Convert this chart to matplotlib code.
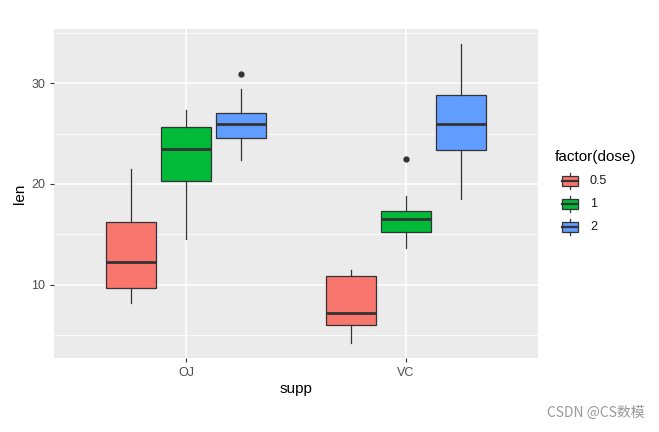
import matplotlib.pyplot as plt
from matplotlib.patches import Rectangle

plt.rcParams['font.family'] = ['Liberation Sans', 'DejaVu Sans']

supp = ['OJ', 'VC']
doses = ['0.5', '1', '2']
colors = ['#F8766D', '#00BA38', '#619CFF']

# five-number summaries (whisker low, q1, median, q3, whisker high)
oj_stats = [(8.2, 9.7, 12.25, 16.175, 21.5),
            (14.5, 20.3, 23.45, 25.65, 27.3),
            (22.4, 24.575, 25.95, 27.075, 29.4)]
vc_stats = [(4.2, 5.95, 7.15, 10.9, 11.5),
            (13.6, 15.275, 16.5, 17.3, 18.8),
            (18.5, 23.375, 25.95, 28.8, 33.9)]
oj_out = [[], [], [30.9]]
vc_out = [[], [22.5], []]

fig = plt.figure(figsize=(6.59, 4.32), dpi=100)
ax = fig.add_axes([54/659, 1-358/432, (538-54)/659, (358-29)/432])
ax.set_facecolor('#EBEBEB')

for v in [5, 15, 25, 35]:
    ax.axhline(v, color='white', lw=0.55, zorder=0)
for v in [10, 20, 30]:
    ax.axhline(v, color='white', lw=1.1, zorder=0)
for v in [1, 2]:
    ax.axvline(v, color='white', lw=1.1, zorder=0)

edge = '#333333'
for i, (st, outs) in enumerate([(oj_stats, oj_out), (vc_stats, vc_out)]):
    for j in range(3):
        lo, q1, med, q3, hi = st[j]
        pos = i + 1 + (j - 1) * 0.25
        d = dict(whislo=lo, q1=q1, med=med, q3=q3, whishi=hi, fliers=outs[j])
        ax.bxp([d], positions=[pos], widths=0.225, patch_artist=True,
               showcaps=False,
               boxprops=dict(facecolor=colors[j], edgecolor=edge, lw=0.9),
               medianprops=dict(color=edge, lw=2.0),
               whiskerprops=dict(color=edge, lw=0.9),
               flierprops=dict(marker='o', markerfacecolor=edge,
                               markeredgecolor=edge, markersize=3.5))

ax.set_xlim(0.4, 2.6)
ax.set_ylim(2.715, 35.385)
ax.set_xticks([1, 2])
ax.set_xticklabels(supp)
ax.set_yticks([10, 20, 30])
for s in ax.spines.values():
    s.set_visible(False)
ax.tick_params(colors='#333333', labelcolor='#4D4D4D', labelsize=9,
               length=3, width=0.8)
ax.set_xlabel('supp', fontsize=11, labelpad=2)
ax.set_ylabel('len', fontsize=11, labelpad=3)

# legend
fig.text(555/659, 1-157/432, 'factor(dose)', fontsize=11, va='center', ha='left')
key_y = [181, 204, 227]
for j in range(3):
    kax = fig.add_axes([560/659, 1-(key_y[j]+10)/432, 20/659, 20/432])
    kax.set_xlim(0, 1)
    kax.set_ylim(0, 1)
    kax.axis('off')
    kax.plot([0.5, 0.5], [0.1, 0.25], color=edge, lw=0.9)
    kax.plot([0.5, 0.5], [0.75, 0.9], color=edge, lw=0.9)
    kax.add_patch(Rectangle((0.1, 0.25), 0.8, 0.5, facecolor=colors[j],
                            edgecolor=edge, lw=0.9))
    kax.plot([0.1, 0.9], [0.5, 0.5], color=edge, lw=1.6)
    fig.text(590/659, 1-key_y[j]/432, doses[j], fontsize=9, va='center',
             ha='left', color='#1A1A1A')

fig.text(645/659, 1-413/432, 'CSDN @CS数模', fontsize=10, color='#999999',
         ha='right', va='center', family=['Noto Sans CJK SC', 'DejaVu Sans'])

fig.savefig('out.png', dpi=100)
